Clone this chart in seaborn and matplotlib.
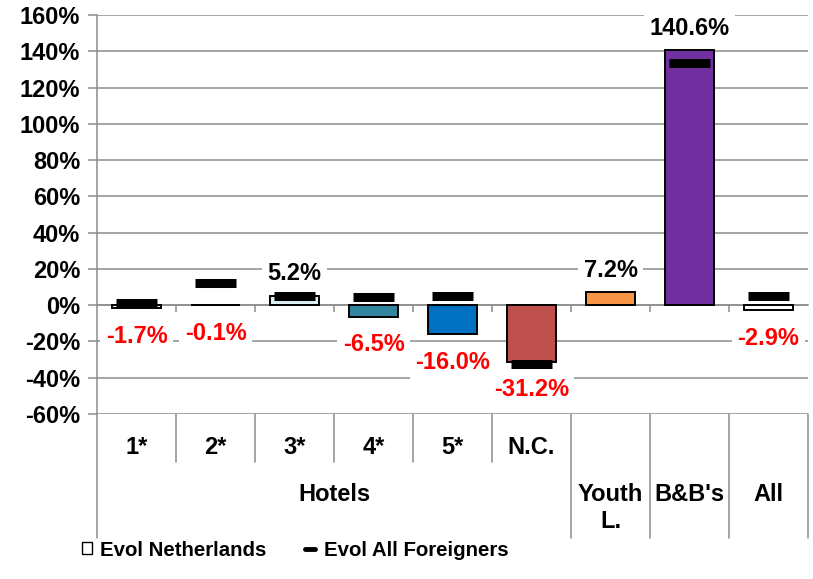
import numpy as np
import pandas as pd
import seaborn as sns
import matplotlib
matplotlib.use("Agg")
import matplotlib.pyplot as plt
from matplotlib.transforms import blended_transform_factory
from matplotlib.lines import Line2D
from matplotlib.patches import Patch

# ---- data ----
categories = ["1*", "2*", "3*", "4*", "5*", "N.C.", "Youth L.", "B&B's", "All"]
sub_labels = ["1*", "2*", "3*", "4*", "5*", "N.C.", "", "", ""]
group_labels = ["Hotels", "Youth\nL.", "B&B's", "All"]
group_sizes = [6, 1, 1, 1]
evol_netherlands = [-1.7, -0.1, 5.2, -6.5, -16.0, -31.2, 7.2, 140.6, -2.9]
evol_foreigners = [1.0, 12.2, 5.3, 4.3, 5.3, -32.5, np.nan, 133.5, 5.3]
bar_colors = ["#FFFFFF", "#FFFFFF", "#DBEEF4", "#31859C", "#0070C0",
              "#C0504D", "#F79646", "#7030A0", "#FFFFFF"]
yticks = list(range(-60, 161, 20))

sns.set_style("white")
plt.rcParams["font.family"] = ["Liberation Sans", "DejaVu Sans"]
plt.rcParams["font.weight"] = "bold"
plt.rcParams["text.color"] = "black"
plt.rcParams["xtick.color"] = "black"
plt.rcParams["ytick.color"] = "black"
plt.rcParams["axes.labelcolor"] = "black"

GRID = "#8C8C8C"
FS = 17

fig = plt.figure(figsize=(8.13, 5.79), dpi=100)
ax = fig.add_axes([97 / 813, 1 - 414 / 579, (808 - 97) / 813, (414 - 15) / 579])

df = pd.DataFrame({"cat": categories, "nl": evol_netherlands, "fo": evol_foreigners})
sns.barplot(data=df, x="cat", y="nl", hue="cat", palette=bar_colors, legend=False,
            width=0.62, edgecolor="black", linewidth=1.4, saturation=1, ax=ax, zorder=2)

# foreigners markers
xs = np.arange(len(categories))
fo = np.array(evol_foreigners, dtype=float)
m = ~np.isnan(fo)
ax.hlines(fo[m], xs[m] - 0.26, xs[m] + 0.26, colors="black", lw=6.5, zorder=3)

ax.set_xlim(-0.5, len(categories) - 0.5)
ax.set_ylim(min(yticks), max(yticks))
ax.set_yticks(yticks)
ax.set_yticklabels([f"{v}%" for v in yticks], fontsize=FS, fontweight="bold", color="black")
ax.yaxis.grid(True, color=GRID, lw=1.1)
ax.set_axisbelow(True)
ax.set_xlabel("")
ax.set_ylabel("")

for s in ["top", "right"]:
    ax.spines[s].set_visible(False)
ax.spines["left"].set_color(GRID)
ax.spines["left"].set_linewidth(1.1)
ax.spines["bottom"].set_position(("data", 0))
ax.spines["bottom"].set_color(GRID)
ax.spines["bottom"].set_linewidth(1.1)
ax.spines["bottom"].set_zorder(1)
ax.set_xticks(np.arange(len(categories) - 1) + 0.5)
ax.set_xticklabels([])
ax.tick_params(axis="x", direction="out", length=5, width=1.1, color=GRID, bottom=True)
ax.tick_params(axis="y", direction="out", length=6.5, width=1.1, color=GRID, pad=5.5,
               left=True, labelcolor="black")

# data labels
for i, v in enumerate(evol_netherlands):
    if v >= 0:
        off, col = 22, "black"
    else:
        off, col = -28, "red"
    ax.annotate(f"{v:.1f}%", xy=(i, v), xytext=(0, off), textcoords="offset pixels",
                ha="center", va="center", fontsize=FS, fontweight="bold", color=col,
                zorder=5, bbox=dict(boxstyle="square,pad=0.22", fc="white", ec="none"))

# multi-level category axis below
trans = blended_transform_factory(ax.transData, fig.transFigure)
y_top = 1 - 414 / 579
y_sub = 1 - 462 / 579
y_bot = 1 - 538 / 579
boundaries = [-0.5]
acc = -0.5
for g in group_sizes:
    acc += g
    boundaries.append(acc)
for b in np.arange(-0.5, len(categories), 1.0):
    is_group = any(abs(b - gb) < 1e-9 for gb in boundaries)
    ax.add_line(Line2D([b, b], [y_top, y_bot if is_group else y_sub], transform=trans,
                       color=GRID, lw=1.1, clip_on=False))
for i, lab in enumerate(sub_labels):
    if lab:
        ax.text(i, 1 - 447 / 579, lab, transform=trans, ha="center", va="center",
                fontsize=FS, fontweight="bold", color="black")
start = -0.5
for lab, g in zip(group_labels, group_sizes):
    ax.text(start + g / 2, 1 - 483 / 579, lab, transform=trans, ha="center", va="top",
            fontsize=FS, fontweight="bold", linespacing=1.2, multialignment="center",
            color="black")
    start += g

# legend
handles = [Patch(facecolor="white", edgecolor="black", lw=1.0),
           Line2D([], [], color="black", lw=3.5)]
leg = fig.legend(handles, ["Evol Netherlands", "Evol All Foreigners"], loc="center",
                 bbox_to_anchor=(295 / 813, 1 - 550 / 579), ncol=2, frameon=False,
                 prop={"family": "Liberation Sans", "weight": "bold", "size": 14.7},
                 handlelength=0.5, handleheight=0.5, handletextpad=0.4, columnspacing=1.9)
for t in leg.get_texts():
    t.set_color("black")

fig.savefig("out.png", dpi=100)
